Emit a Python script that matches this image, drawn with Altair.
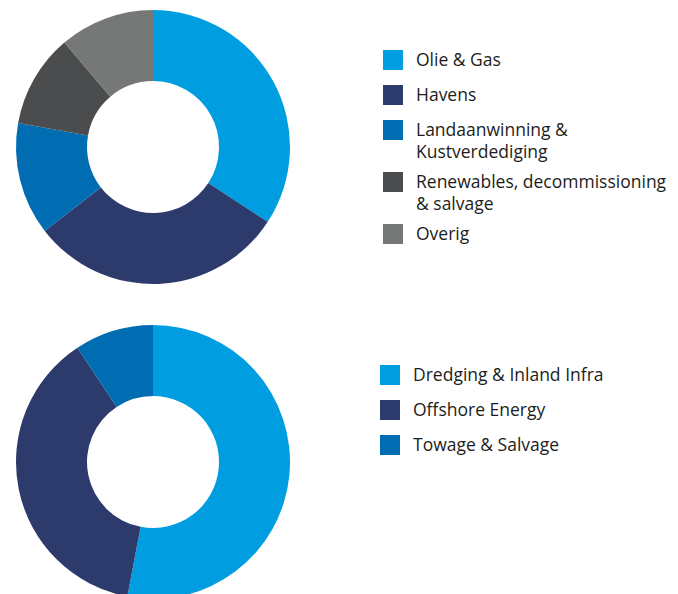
import altair as alt
import pandas as pd

# Segment shares (percent) and legend labels for the two donuts
top_labels = [
    "Olie & Gas",
    "Havens",
    "Landaanwinning &\nKustverdediging",
    "Renewables, decommissioning\n& salvage",
    "Overig",
]
top_values = [34.2, 30.3, 13.3, 11.0, 11.2]
top_colors = ["#009ee0", "#2d3a6c", "#006db3", "#4b4c4e", "#767877"]

bottom_labels = ["Dredging & Inland Infra", "Offshore Energy", "Towage & Salvage"]
bottom_values = [53.0, 37.7, 9.3]
bottom_colors = ["#009ee0", "#2d3a6c", "#006db3"]

FONT = "Open Sans"
TEXT_COLOR = "#1d1d1b"
ROW_STEP = 35     # legend row advance for a single-line label
EXTRA_LINE = 17   # extra advance per additional label line


def make_frame(labels, values):
    df = pd.DataFrame({"label": labels, "value": values})
    df["idx"] = range(len(df))
    lines = df["label"].str.count("\n") + 1
    adv = ROW_STEP + EXTRA_LINE * (lines - 1)
    df["row"] = adv.cumsum() - adv
    return df


def donut(df, colors, size):
    return (
        alt.Chart(df)
        .mark_arc(innerRadius=66, outerRadius=137)
        .encode(
            theta=alt.Theta("value:Q", stack=True),
            order=alt.Order("idx:Q"),
            color=alt.Color(
                "label:N",
                scale=alt.Scale(domain=list(df["label"]), range=colors),
                legend=None,
            ),
        )
        .properties(width=size, height=size)
    )


def legend(df, colors, width, height):
    yscale = alt.Scale(domain=[-50, height - 50], range=[0, height])
    base = alt.Chart(df).encode(
        y=alt.Y("row:Q", scale=yscale, axis=None),
    )
    squares = base.mark_square(size=400, opacity=1).encode(
        x=alt.value(13),
        color=alt.Color(
            "label:N",
            scale=alt.Scale(domain=list(df["label"]), range=colors),
            legend=None,
        ),
    )
    texts = base.mark_text(
        align="left",
        baseline="alphabetic",
        dy=6,
        lineBreak="\n",
        lineHeight=22,
        font=FONT,
        fontSize=17.5,
        color=TEXT_COLOR,
    ).encode(x=alt.value(36), text="label:N")
    return (squares + texts).properties(width=width, height=height)


top_df = make_frame(top_labels, top_values)
bottom_df = make_frame(bottom_labels, bottom_values)

top_row = alt.hconcat(
    donut(top_df, top_colors, 274),
    legend(top_df, top_colors, 290, 274),
    spacing=90,
)
bottom_row = alt.hconcat(
    donut(bottom_df, bottom_colors, 274),
    legend(bottom_df, bottom_colors, 290, 274),
    spacing=87,
)

chart = (
    alt.vconcat(top_row, bottom_row, spacing=41)
    .properties(padding={"left": 16, "top": 10, "right": 0, "bottom": -5})
    .configure(background="white", view=alt.ViewConfig(strokeWidth=0, stroke="transparent"))
)

chart.save("out.html", embed_options={"renderer": "svg", "actions": False})
